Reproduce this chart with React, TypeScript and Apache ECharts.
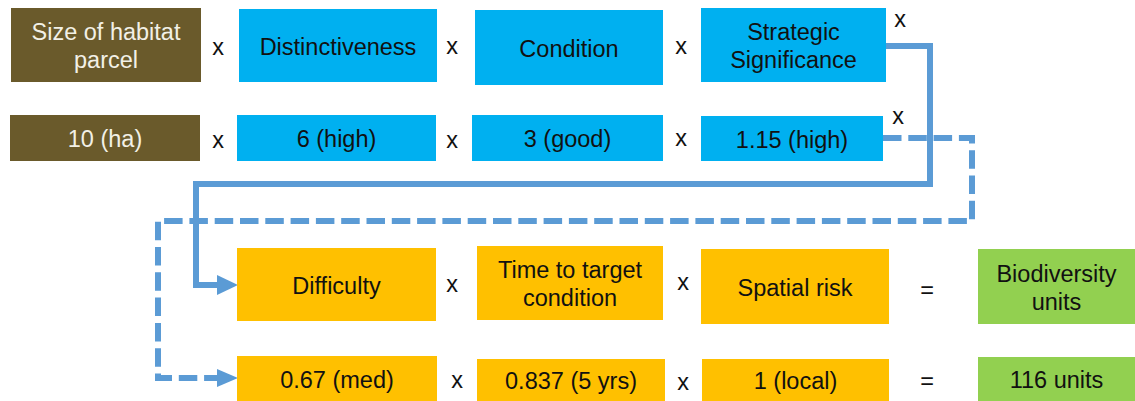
import React, { useEffect, useRef } from "react";
import * as echarts from "echarts";

// Diagram content
const factorNames = ["Size of habitat\nparcel", "Distinctiveness", "Condition", "Strategic\nSignificance"];
const factorValues = ["10 (ha)", "6 (high)", "3 (good)", "1.15 (high)"];
const modifierNames = ["Difficulty", "Time to target\ncondition", "Spatial risk", "Biodiversity\nunits"];
const modifierValues = ["0.67 (med)", "0.837 (5 yrs)", "1 (local)", "116 units"];
const operatorsTop = ["x", "x", "x", "x"];
const operatorsBottom = ["x", "x", "="];

const BROWN = "#6A5A2B";
const CYAN = "#00B0F0";
const ORANGE = "#FFC000";
const GREEN = "#92D050";
const LINE = "#5B9BD5";
const FONT = '"Liberation Sans", Arial, sans-serif';
const FS = 23.5;

type Box = { x: number; y: number; w: number; h: number; fill: string; color: string };

const row1Boxes: Box[] = [
  { x: 11, y: 8, w: 190, h: 74, fill: BROWN, color: "#F2F0E6" },
  { x: 239, y: 9, w: 198, h: 73, fill: CYAN, color: "#111" },
  { x: 475, y: 10, w: 188, h: 75, fill: CYAN, color: "#111" },
  { x: 701, y: 8, w: 185, h: 74, fill: CYAN, color: "#111" },
];
const row2Boxes: Box[] = [
  { x: 10, y: 115, w: 190, h: 46, fill: BROWN, color: "#F2F0E6" },
  { x: 237, y: 115, w: 199, h: 46, fill: CYAN, color: "#111" },
  { x: 472, y: 115, w: 191, h: 46, fill: CYAN, color: "#111" },
  { x: 701, y: 116, w: 182, h: 45, fill: CYAN, color: "#111" },
];
const row3Boxes: Box[] = [
  { x: 237, y: 248, w: 199, h: 73, fill: ORANGE, color: "#111" },
  { x: 477, y: 246, w: 186, h: 74, fill: ORANGE, color: "#111" },
  { x: 701, y: 249, w: 188, h: 75, fill: ORANGE, color: "#111" },
  { x: 978, y: 249, w: 157, h: 75, fill: GREEN, color: "#111" },
];
const row4Boxes: Box[] = [
  { x: 237, y: 356, w: 200, h: 45, fill: ORANGE, color: "#111" },
  { x: 477, y: 359, w: 188, h: 42, fill: ORANGE, color: "#111" },
  { x: 702, y: 359, w: 187, h: 42, fill: ORANGE, color: "#111" },
  { x: 978, y: 357, w: 157, h: 44, fill: GREEN, color: "#111" },
];
const opPos1 = [[218, 47], [452, 46], [681, 46], [900, 19]];
const opPos2 = [[218, 140], [452, 140], [681, 138], [898, 116]];
const opPos3 = [[452, 284], [683, 282], [927, 290]];
const opPos4 = [[457, 380], [683, 382], [927, 381]];

function boxes(list: Box[], labels: string[]) {
  const out: any[] = [];
  list.forEach((b, i) => {
    out.push({
      type: "rect",
      shape: { x: b.x, y: b.y, width: b.w, height: b.h },
      style: { fill: b.fill },
      silent: true,
    });
    out.push({
      type: "text",
      x: b.x + b.w / 2,
      y: b.y + b.h / 2 + 1,
      style: {
        text: labels[i],
        fill: b.color,
        font: `${FS}px ${FONT}`,
        align: "center",
        verticalAlign: "middle",
        lineHeight: 28,
      },
      silent: true,
    });
  });
  return out;
}

function ops(pos: number[][], labels: string[]) {
  return pos.map((p, i) => ({
    type: "text",
    x: p[0],
    y: p[1],
    style: {
      text: labels[i],
      fill: "#111",
      font: `${FS}px ${FONT}`,
      align: "center",
      verticalAlign: "middle",
    },
    silent: true,
  }));
}

export default function App() {
  const ref = useRef<HTMLDivElement>(null);
  useEffect(() => {
    document.body.style.margin = "0";
    const chart = echarts.init(ref.current!, null, { renderer: "svg" });
    const graphic: any[] = [
      {
        type: "polyline",
        shape: { points: [[886, 46], [930, 46], [930, 184], [196, 184], [196, 285], [220, 285]] },
        style: { stroke: LINE, lineWidth: 6, fill: null, lineJoin: "miter" },
        silent: true,
      },
      {
        type: "polygon",
        shape: { points: [[217, 275], [238, 285], [217, 295]] },
        style: { fill: LINE },
        silent: true,
      },
      {
        type: "polyline",
        shape: { points: [[883, 138], [972, 138], [972, 221], [158, 221], [158, 378], [220, 378]] },
        style: { stroke: LINE, lineWidth: 6, fill: null, lineDash: [18.5, 6.8], lineJoin: "miter" },
        silent: true,
      },
      {
        type: "polygon",
        shape: { points: [[217, 369], [238, 378], [217, 387]] },
        style: { fill: LINE },
        silent: true,
      },
      ...boxes(row1Boxes, factorNames),
      ...boxes(row2Boxes, factorValues),
      ...boxes(row3Boxes, modifierNames),
      ...boxes(row4Boxes, modifierValues),
      ...ops(opPos1, operatorsTop),
      ...ops(opPos2, operatorsTop),
      ...ops(opPos3, operatorsBottom),
      ...ops(opPos4, operatorsBottom),
    ];
    chart.setOption({ animation: false, backgroundColor: "#ffffff", graphic });
    return () => chart.dispose();
  }, []);
  return <div ref={ref} style={{ width: 1135, height: 401 }} />;
}
